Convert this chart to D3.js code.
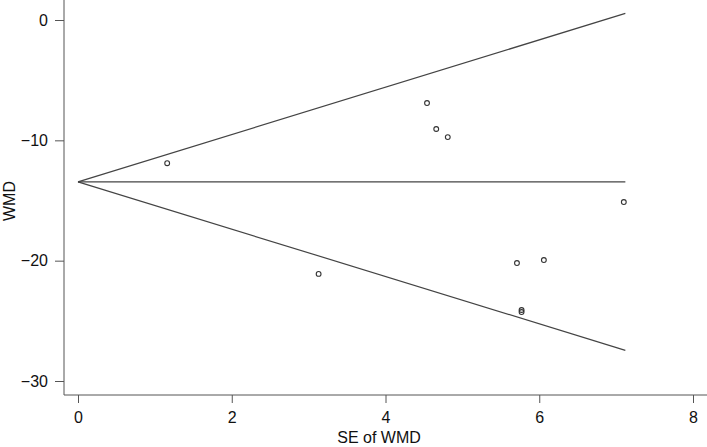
<!DOCTYPE html>
<html lang="en">
<head>
    <meta charset="UTF-8"/>
    <title>Funnel plot</title>
    <script src="https://d3js.org/d3.v7.min.js" charset="utf-8"></script>
    <style type="text/css">
        body {
            margin: 0;
            background: #fff;
        }

        text {
            font-family: "Liberation Sans", Arial, sans-serif;
            font-size: 16px;
            fill: #111;
        }

        .axis line {
            stroke: #555;
        }

        path.funnel {
            fill: none;
            stroke: #444;
            stroke-width: 1.2px;
        }

        circle.study {
            fill: none;
            stroke: #333;
            stroke-width: 1.1px;
        }
    </style>
</head>
<body>
<div id="chart"></div>
<script>
    // study points: standard error and weighted mean difference
    var studySE = [1.16, 4.54, 4.66, 4.81, 3.13, 5.71, 6.06, 5.77, 5.77, 7.10];
    var studyWMD = [-11.9, -6.9, -9.06, -9.73, -21.1, -20.2, -19.95, -24.1, -24.27, -15.13];

    // funnel (pooled line and 95% limits), end points only
    var funnelSE = [0, 7.12];
    var pooled = [-13.45, -13.45];
    var upperLimit = [-13.45, 0.55];
    var lowerLimit = [-13.45, -27.45];

    var xTicks = [0, 2, 4, 6, 8];
    var yTicks = [0, -10, -20, -30];

    var width = 707, height = 447;

    var svg = d3.select("#chart")
        .append("svg")
        .attr("width", width)
        .attr("height", height);

    var x = d3.scaleLinear().domain([0, 8]).range([78, 693]);
    var y = d3.scaleLinear().domain([0, -30]).range([20, 381]);

    var axisX = 64, axisY = 395;

    // axes
    var gy = svg.append("g")
        .attr("class", "axis")
        .attr("transform", "translate(" + axisX + ",0)")
        .call(d3.axisLeft(y).tickValues(yTicks).tickSize(9).tickPadding(7));
    gy.select(".domain").remove();

    var gx = svg.append("g")
        .attr("class", "axis")
        .attr("transform", "translate(0," + axisY + ")")
        .call(d3.axisBottom(x).tickValues(xTicks).tickSize(8).tickPadding(9));
    gx.select(".domain").remove();

    svg.selectAll(".axis text")
        .attr("fill", "#111")
        .style("font-size", "16px")
        .style("font-family", "'Liberation Sans', Arial, sans-serif");

    svg.append("line")
        .attr("x1", axisX).attr("x2", axisX)
        .attr("y1", 0).attr("y2", axisY)
        .attr("stroke", "#555");
    svg.append("line")
        .attr("x1", axisX).attr("x2", width)
        .attr("y1", axisY).attr("y2", axisY)
        .attr("stroke", "#555");

    // funnel lines
    var line = d3.line()
        .x(function (d) { return x(d[0]); })
        .y(function (d) { return y(d[1]); });

    [pooled, upperLimit, lowerLimit].forEach(function (arr) {
        svg.append("path")
            .attr("class", "funnel")
            .attr("d", line(funnelSE.map(function (s, i) { return [s, arr[i]]; })));
    });

    // studies
    svg.selectAll("circle.study")
        .data(studySE)
        .enter()
        .append("circle")
        .attr("class", "study")
        .attr("cx", function (d) { return x(d); })
        .attr("cy", function (d, i) { return y(studyWMD[i]); })
        .attr("r", 2.4);

    // axis titles
    svg.append("text")
        .attr("x", 379)
        .attr("y", 443)
        .attr("text-anchor", "middle")
        .style("font-size", "16px")
        .text("SE of WMD");

    svg.append("text")
        .attr("transform", "translate(15,201)rotate(-90)")
        .attr("text-anchor", "middle")
        .style("font-size", "16px")
        .text("WMD");
</script>
</body>
</html>
